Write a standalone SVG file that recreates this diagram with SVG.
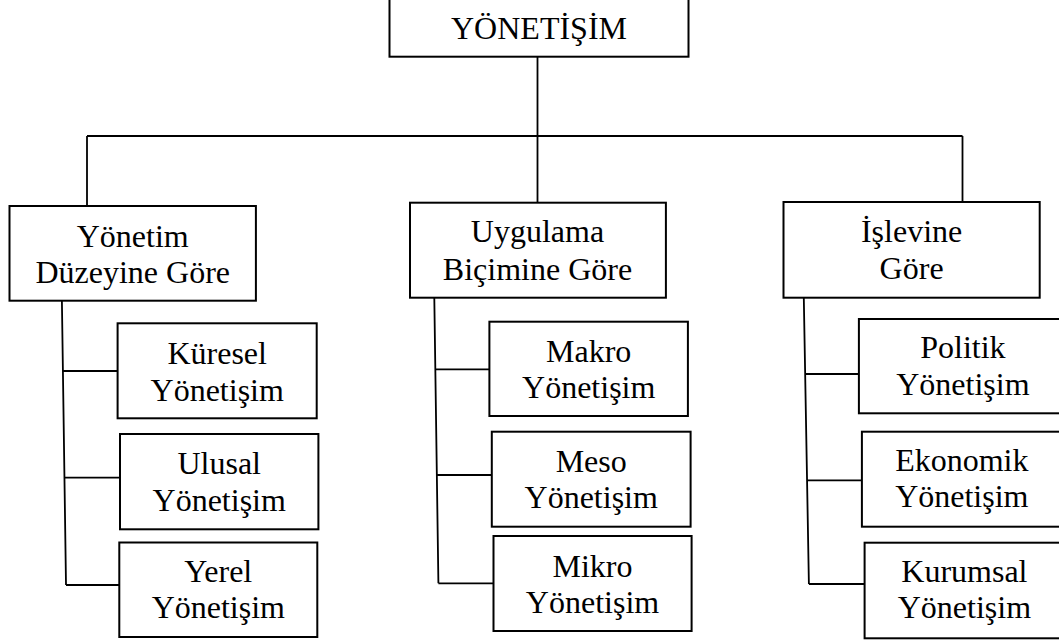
<svg xmlns="http://www.w3.org/2000/svg" width="1059" height="643" viewBox="0 0 1059 643">
<style>
.box{fill:#fff;stroke:#000;stroke-width:2}
.ln{fill:none;stroke:#000;stroke-width:1.8}
text{font-family:"Liberation Serif","Times New Roman",serif;font-size:32px;fill:#000;text-anchor:middle}
</style>
<rect width="1059" height="643" fill="#fff"/>
<g id="connectors">
<path class="ln" d="M537.5 56.7V202.7M87 136H962.5M87 136V206M962.5 136V202"/>
<path class="ln" d="M61.9 300.7L66 585M62.9 371H117.6M64.4 477.7H120M66 585H119.3"/>
<path class="ln" d="M434.3 297.7L438.4 583.3M435.3 369.3H489.4M436.8 475H491.8M438.4 583.3H493.5"/>
<path class="ln" d="M803.8 297.7L808.9 584M804.9 374H858.9M806.8 480.3H861.9M808.9 584H864.6"/>
</g>
<g id="root"><rect class="box" x="389.5" y="-2" width="299" height="58.7"/><text x="539" y="39.3">YÖNETİŞİM</text></g>
<g id="duzey"><rect class="box" x="9.5" y="206" width="246.4" height="94.7"/><text x="132.7" y="246.7">Yönetim</text><text x="132.7" y="283.3">Düzeyine Göre</text></g>
<g id="bicim"><rect class="box" x="410" y="202.7" width="255.9" height="95"/><text x="537.5" y="241.7">Uygulama</text><text x="537.5" y="280">Biçimine Göre</text></g>
<g id="islev"><rect class="box" x="783.5" y="202" width="256.2" height="95.7"/><text x="911.6" y="241.7">İşlevine</text><text x="911.6" y="279.3">Göre</text></g>
<g id="kuresel"><rect class="box" x="117.6" y="323.3" width="199.1" height="95"/><text x="217.2" y="364.3">Küresel</text><text x="217.2" y="400.7">Yönetişim</text></g>
<g id="ulusal"><rect class="box" x="120" y="434" width="198.4" height="95.3"/><text x="219.2" y="474">Ulusal</text><text x="219.2" y="510.7">Yönetişim</text></g>
<g id="yerel"><rect class="box" x="119.3" y="542.5" width="198" height="94.5"/><text x="218.3" y="582">Yerel</text><text x="218.3" y="618.3">Yönetişim</text></g>
<g id="makro"><rect class="box" x="489.4" y="321.7" width="198.5" height="94.3"/><text x="588.7" y="361.7">Makro</text><text x="588.7" y="397.7">Yönetişim</text></g>
<g id="meso"><rect class="box" x="491.8" y="431.7" width="198.8" height="95"/><text x="591.2" y="471.7">Meso</text><text x="591.2" y="508.3">Yönetişim</text></g>
<g id="mikro"><rect class="box" x="493.5" y="536" width="198.1" height="95"/><text x="592.5" y="576.7">Mikro</text><text x="592.5" y="613.3">Yönetişim</text></g>
<g id="politik"><rect class="box" x="858.9" y="319" width="220" height="94.3"/><text x="962.9" y="358.3">Politik</text><text x="962.9" y="395">Yönetişim</text></g>
<g id="ekonomik"><rect class="box" x="861.9" y="431.7" width="220" height="95"/><text x="961.8" y="470.7">Ekonomik</text><text x="961.8" y="507.3">Yönetişim</text></g>
<g id="kurumsal"><rect class="box" x="864.6" y="542.7" width="220" height="95.6"/><text x="964.4" y="581.7">Kurumsal</text><text x="964.4" y="618.3">Yönetişim</text></g>
</svg>
